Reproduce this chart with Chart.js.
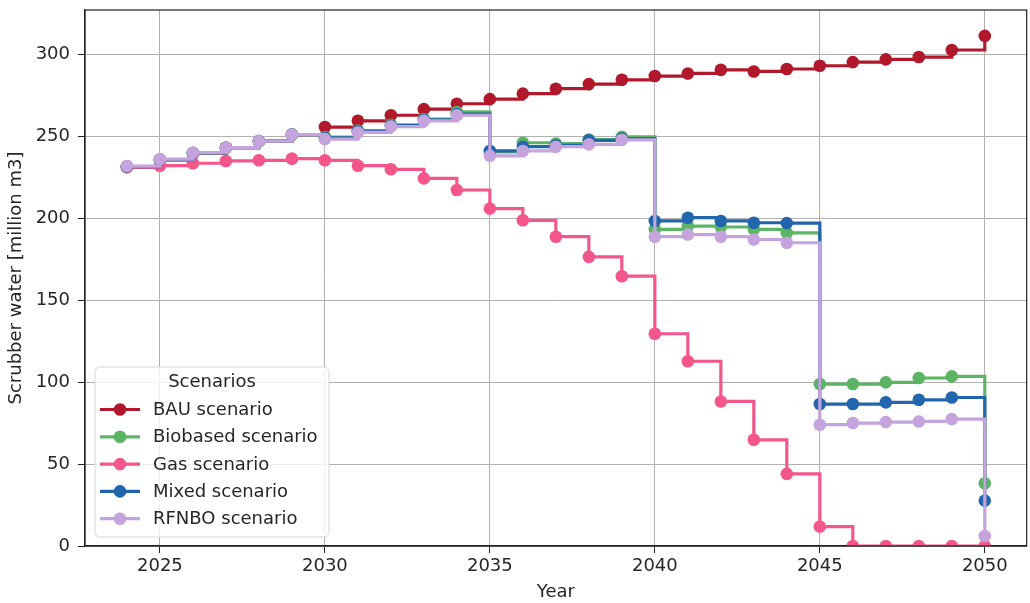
<!DOCTYPE html>
<html>
<head>
<meta charset="utf-8">
<script src="https://cdn.jsdelivr.net/npm/chart.js@4.4.1/dist/chart.umd.min.js"></script>
<style>
  html, body { margin: 0; padding: 0; background: #ffffff; overflow: hidden; }
  #wrap { width: 1030px; height: 603px; position: relative; overflow: hidden; }
  #chart { display: block; }
</style>
</head>
<body>
<div id="wrap"><canvas id="chart" width="1033" height="603"></canvas></div>
<script>
// Scrubber water demand per scenario, 2024-2050 (million m3)
const years = [2024, 2025, 2026, 2027, 2028, 2029, 2030, 2031, 2032, 2033, 2034, 2035, 2036, 2037, 2038,
               2039, 2040, 2041, 2042, 2043, 2044, 2045, 2046, 2047, 2048, 2049, 2050];

const bauScenario = [231.5, 235.5, 239.5, 243, 247, 251, 255.6, 259.4, 262.8, 266.5, 269.8, 272.6, 276, 279,
                     281.8, 284.4, 286.7, 288.3, 290.5, 289.5, 291, 293, 295.2, 296.9, 298.3, 302.6, 311.2];
const biobasedScenario = [231.5, 235.7, 239.8, 243, 247, 251, 249.5, 253.5, 257, 260.5, 264.8, 240.5, 246, 245.5,
                          248, 249.6, 193.2, 195.2, 194.6, 193.2, 191, 98.8, 98.8, 99.8, 102.5, 103.5, 38.3];
const gasScenario = [231, 232, 233.5, 234.9, 235.3, 236.3, 235.3, 232, 229.8, 224.3, 217.2, 205.8, 198.7, 188.7,
                     176.4, 164.6, 129.5, 112.7, 88.2, 64.8, 44, 11.8, 0, 0, 0, 0, 0];
const mixedScenario = [231.5, 235.7, 239.8, 243, 247, 251, 249, 253, 256.5, 260, 263.5, 241, 243.6, 244.5,
                       247.5, 248.6, 198.3, 200.3, 198.3, 197.2, 197, 86.6, 86.6, 87.6, 89.2, 90.6, 27.7];
const rfnboScenario = [231.8, 236, 240, 243, 247, 251, 248.2, 252.3, 255.9, 259.4, 262.8, 238, 241, 243.6,
                       245, 247.8, 188.7, 190, 188.7, 187, 185, 74, 75, 75.6, 76, 77.4, 6.1];

const seriesNames = ['BAU scenario', 'Biobased scenario', 'Gas scenario', 'Mixed scenario', 'RFNBO scenario'];
const seriesValues = [bauScenario, biobasedScenario, gasScenario, mixedScenario, rfnboScenario];
const seriesColors = ['#b2182b', '#5cb564', '#f4568a', '#2166ac', '#c5a3dd'];

const xTicks = [2025, 2030, 2035, 2040, 2045, 2050];
const yTicks = [0, 50, 100, 150, 200, 250, 300];

const FONT = "'DejaVu Sans', 'Liberation Sans', sans-serif";
const TEXT = '#262626';
const FS = 18;

const datasets = seriesNames.map((name, i) => ({
  label: name,
  data: years.map((yr, k) => ({ x: yr, y: seriesValues[i][k] })),
  borderColor: seriesColors[i],
  backgroundColor: seriesColors[i],
  pointBackgroundColor: seriesColors[i],
  pointBorderColor: seriesColors[i],
  pointBorderWidth: 0,
  pointRadius: 6.3,
  pointHoverRadius: 6.3,
  borderWidth: 3.2,
  stepped: true,
  fill: false,
  order: seriesNames.length - 1 - i
}));

// Black frame around the plotting area
const framePlugin = {
  id: 'frame',
  afterDraw(chart) {
    const { ctx, chartArea: a } = chart;
    ctx.save();
    ctx.strokeStyle = '#222';
    ctx.lineWidth = 1.2;
    ctx.strokeRect(a.left, a.top, a.right - a.left, a.bottom - a.top);
    ctx.restore();
  }
};

// Legend in the lower-left corner with a title
const boxLegendPlugin = {
  id: 'boxLegend',
  afterDraw(chart) {
    const { ctx } = chart;
    const x0 = 95, y0 = 367, w = 234, h = 170, r = 5;
    ctx.save();
    ctx.beginPath();
    ctx.moveTo(x0 + r, y0);
    ctx.arcTo(x0 + w, y0, x0 + w, y0 + h, r);
    ctx.arcTo(x0 + w, y0 + h, x0, y0 + h, r);
    ctx.arcTo(x0, y0 + h, x0, y0, r);
    ctx.arcTo(x0, y0, x0 + w, y0, r);
    ctx.closePath();
    ctx.fillStyle = 'rgba(255,255,255,0.8)';
    ctx.fill();
    ctx.strokeStyle = '#d6d6d6';
    ctx.lineWidth = 1;
    ctx.stroke();

    ctx.font = FS + 'px ' + FONT;
    ctx.fillStyle = TEXT;
    ctx.textBaseline = 'middle';
    ctx.textAlign = 'center';
    ctx.fillText('Scenarios', 212, 382);

    ctx.textAlign = 'left';
    chart.data.datasets.forEach((ds, i) => {
      const y = 409.5 + i * 27.3;
      ctx.strokeStyle = ds.borderColor;
      ctx.lineWidth = 3.2;
      ctx.beginPath();
      ctx.moveTo(100, y);
      ctx.lineTo(140, y);
      ctx.stroke();
      ctx.fillStyle = ds.borderColor;
      ctx.beginPath();
      ctx.arc(120, y, 6.3, 0, Math.PI * 2);
      ctx.fill();
      ctx.fillStyle = TEXT;
      ctx.fillText(ds.label, 153, y + 1);
    });
    ctx.restore();
  }
};

new Chart(document.getElementById('chart'), {
  type: 'line',
  data: { datasets },
  plugins: [framePlugin, boxLegendPlugin],
  options: {
    responsive: false,
    animation: false,
    events: [],
    layout: { padding: { left: 0, right: 0, top: 10, bottom: 0 } },
    plugins: {
      legend: { display: false },
      tooltip: { enabled: false }
    },
    scales: {
      x: {
        type: 'linear',
        min: 2022.73,
        max: 2051.27,
        afterBuildTicks: (scale) => { scale.ticks = xTicks.map(v => ({ value: v })); },
        afterFit: (scale) => { scale.height = 57; scale.paddingLeft = 0; scale.paddingRight = 0; },
        ticks: {
          font: { family: FONT, size: FS },
          color: TEXT,
          padding: 3,
          maxRotation: 0,
          callback: (v) => String(v)
        },
        grid: { color: '#b0b0b0', lineWidth: 1, tickColor: '#222', tickLength: 7, drawTicks: true },
        border: { display: true, color: '#222', width: 1.2 },
        title: { display: true, text: 'Year', font: { family: FONT, size: FS }, color: TEXT, padding: { top: 0, bottom: 0 } }
      },
      y: {
        type: 'linear',
        min: 0,
        max: 327,
        afterBuildTicks: (scale) => { scale.ticks = yTicks.map(v => ({ value: v })); },
        afterFit: (scale) => { scale.width = 85; scale.paddingTop = 0; scale.paddingBottom = 0; },
        ticks: {
          font: { family: FONT, size: FS },
          color: TEXT,
          padding: 8,
          callback: (v) => String(v)
        },
        grid: { color: '#b0b0b0', lineWidth: 1, tickColor: '#222', tickLength: 7, drawTicks: true },
        border: { display: true, color: '#222', width: 1.2 },
        title: { display: true, text: 'Scrubber water [million m3]', font: { family: FONT, size: FS }, color: TEXT, padding: { top: 6, bottom: 0 } }
      }
    }
  }
});
</script>
</body>
</html>
